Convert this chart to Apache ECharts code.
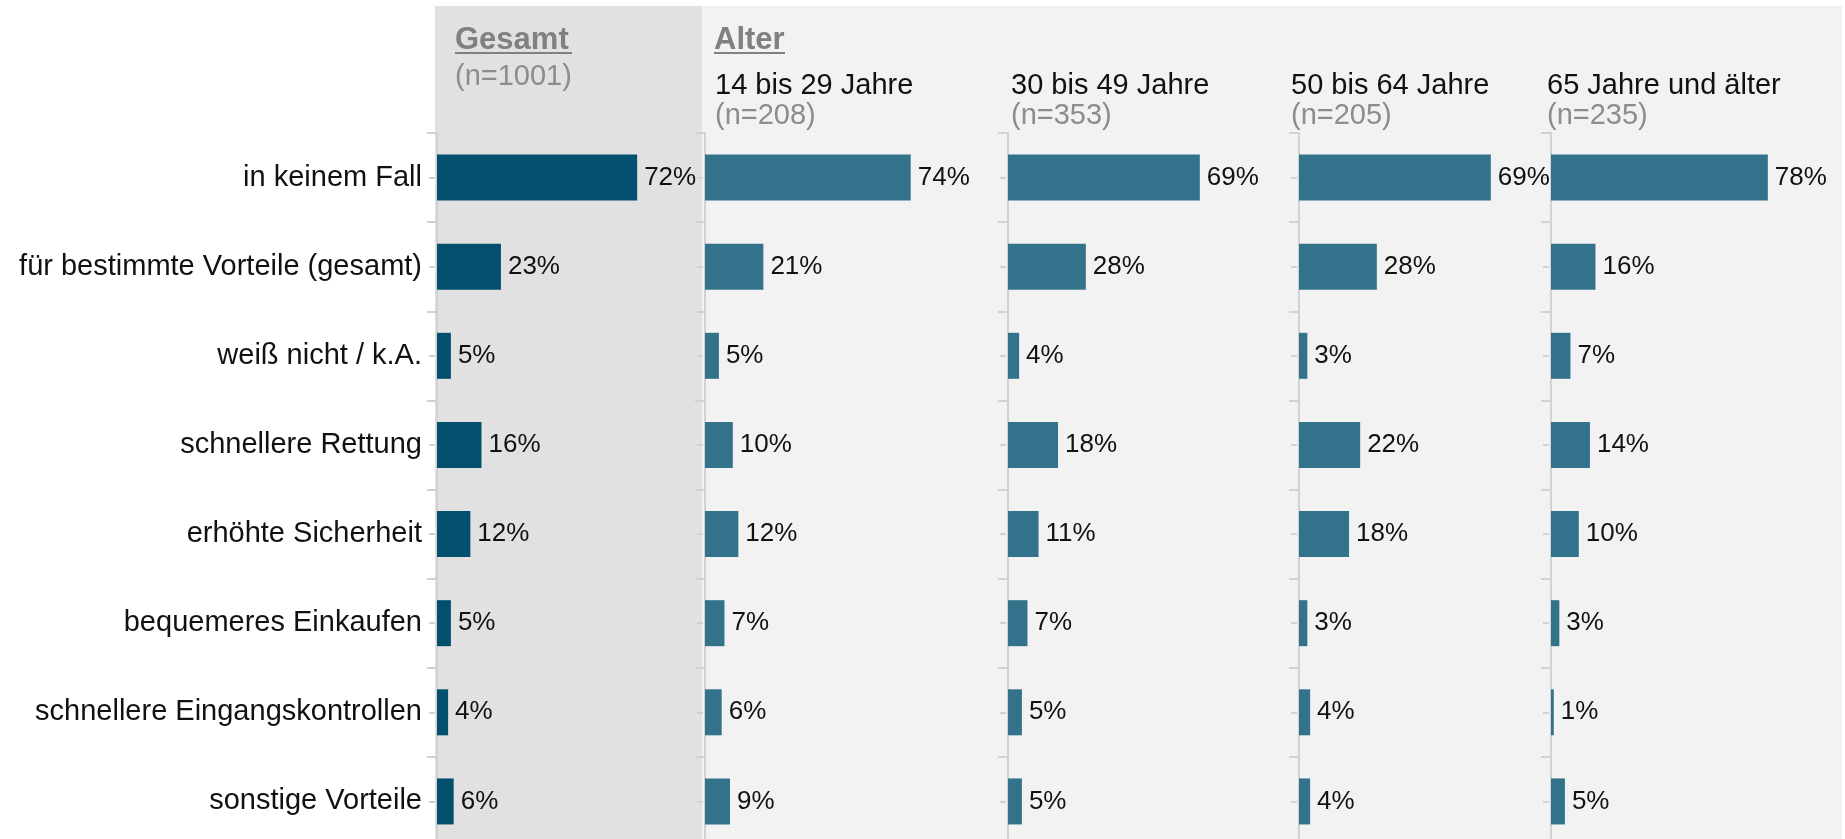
<!DOCTYPE html>
<html>
<head>
<meta charset="utf-8">
<script src="https://cdn.jsdelivr.net/npm/echarts@6/dist/echarts.min.js"></script>
<style>
html,body{margin:0;padding:0;background:#ffffff;overflow:hidden;width:1845px;height:839px;}
#chart{width:1845px;height:860px;}
</style>
</head>
<body>
<div id="chart"></div>
<script>
const categories = ['in keinem Fall','für bestimmte Vorteile (gesamt)','weiß nicht / k.A.','schnellere Rettung','erhöhte Sicherheit','bequemeres Einkaufen','schnellere Eingangskontrollen','sonstige Vorteile'];
const gesamt  = [72,23,5,16,12,5,4,6];
const age14_29 = [74,21,5,10,12,7,6,9];
const age30_49 = [69,28,4,18,11,7,5,5];
const age50_64 = [69,28,3,22,18,3,4,4];
const age65    = [78,16,7,14,10,3,1,5];
const panelTitles = ['Gesamt','Alter'];
const groupLabels = ['14 bis 29 Jahre','30 bis 49 Jahre','50 bis 64 Jahre','65 Jahre und älter'];
const sampleSizes = ['(n=1001)','(n=208)','(n=353)','(n=205)','(n=235)'];

const FONT = "'Liberation Sans', Arial, Helvetica, sans-serif";
const seriesData = [gesamt, age14_29, age30_49, age50_64, age65];
const gridLefts = [437, 705, 1008, 1299, 1551];
const headerX = [455, 715, 1011, 1291, 1547];
const colors = ['#02506e', '#33728b', '#33728b', '#33728b', '#33728b'];

const grids = [], xAxes = [], yAxes = [], series = [];
seriesData.forEach((d, i) => {
  grids.push({left: gridLefts[i], top: 133, width: 278, height: 713, containLabel: false});
  xAxes.push({gridIndex: i, type: 'value', min: 0, max: 100, show: false});
  yAxes.push({
    gridIndex: i, type: 'category', data: categories, inverse: true, position: 'left', offset: 2,
    axisLine: {show: true, lineStyle: {color: '#d2d2d2', width: 2}},
    axisTick: {show: true, length: 10, lineStyle: {color: '#d2d2d2', width: 2}},
    axisLabel: {show: i === 0, margin: 13, color: '#111111', fontSize: 29, fontFamily: FONT},
    splitLine: {show: false}
  });
  yAxes.push({
    gridIndex: i, type: 'category', data: categories, inverse: true, position: 'left', offset: 2,
    axisLine: {show: false},
    axisTick: {show: true, alignWithLabel: true, length: 6, lineStyle: {color: '#d2d2d2', width: 2}},
    axisLabel: {show: false},
    splitLine: {show: false}
  });
  series.push({
    type: 'bar', xAxisIndex: i, yAxisIndex: i * 2, data: d, barWidth: 46,
    itemStyle: {color: colors[i]},
    label: {show: true, position: 'right', distance: 7, formatter: '{c}%', color: '#111111', fontSize: 26, fontFamily: FONT},
    silent: true, animation: false
  });
});

const graphics = [
  {type: 'rect', z: -10, shape: {x: 435, y: 6, width: 267, height: 860}, style: {fill: '#e1e1e1'}, silent: true},
  {type: 'rect', z: -10, shape: {x: 702, y: 6, width: 1140, height: 860}, style: {fill: '#f2f2f2'}, silent: true},
  {type: 'text', z: 10, x: headerX[0], y: 40, style: {text: panelTitles[0], fill: '#808080', fontSize: 31, fontWeight: 'bold', fontFamily: FONT, verticalAlign: 'middle'}},
  {type: 'rect', z: 10, shape: {x: headerX[0], y: 52, width: 117, height: 2}, style: {fill: '#808080'}},
  {type: 'text', z: 10, x: headerX[1] - 1, y: 40, style: {text: panelTitles[1], fill: '#808080', fontSize: 31, fontWeight: 'bold', fontFamily: FONT, verticalAlign: 'middle'}},
  {type: 'rect', z: 10, shape: {x: headerX[1] - 1, y: 52, width: 71, height: 2}, style: {fill: '#808080'}},
  {type: 'text', z: 10, x: headerX[0], y: 77, style: {text: sampleSizes[0], fill: '#8c8c8c', fontSize: 29, fontFamily: FONT, verticalAlign: 'middle'}}
];
groupLabels.forEach((g, k) => {
  graphics.push({type: 'text', z: 10, x: headerX[k + 1], y: 86, style: {text: g, fill: '#111111', fontSize: 29, fontFamily: FONT, verticalAlign: 'middle'}});
  graphics.push({type: 'text', z: 10, x: headerX[k + 1], y: 116, style: {text: sampleSizes[k + 1], fill: '#8c8c8c', fontSize: 29, fontFamily: FONT, verticalAlign: 'middle'}});
});

const chart = echarts.init(document.getElementById('chart'), null, {renderer: 'canvas'});
chart.setOption({
  backgroundColor: '#ffffff',
  animation: false,
  grid: grids,
  xAxis: xAxes,
  yAxis: yAxes,
  series: series,
  graphic: {elements: graphics}
});
</script>
</body>
</html>
